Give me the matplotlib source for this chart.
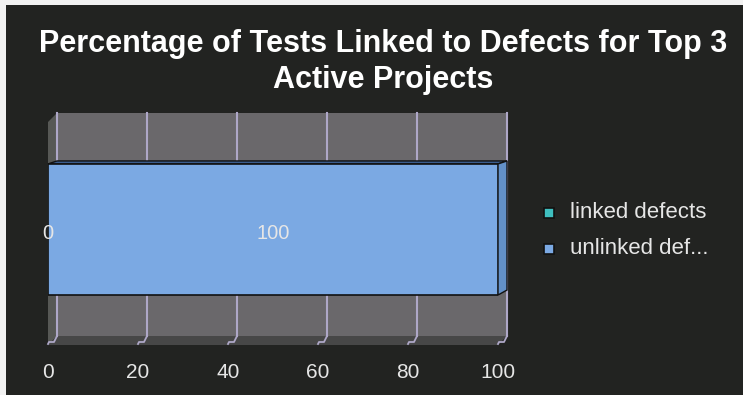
import matplotlib
matplotlib.use("Agg")
import matplotlib.pyplot as plt
from matplotlib.patches import Polygon, Rectangle
from matplotlib.lines import Line2D
from matplotlib.transforms import IdentityTransform

# ---- data ----
title = "Percentage of Tests Linked to Defects for Top 3\nActive Projects"
categories = ["Top 3 Active Projects"]
series_names = ["linked defects", "unlinked def..."]
linked = [0]
unlinked = [100]
x_ticks = [0, 20, 40, 60, 80, 100]

# ---- style ----
BG = "#222321"
WALL = "#6a686b"
SIDE_WALL = "#575855"
FLOOR = "#474747"
GRID = "#aea7c7"
TEXT = "#e6e6e6"
COLORS = ["#3fbfbf", "#7ba9e3"]
TOP_FACE = ["#2a8a8a", "#3b5d8e"]
SIDE_FACE = ["#33a0a0", "#6390c8"]
W, H = 743, 395
DX, DY = 9, 9          # depth offset of the 3D walls (pixels)
BDX, BDY = 9, 3        # depth offset of the bar faces (pixels)

fig = plt.figure(figsize=(W / 100, H / 100), dpi=100, facecolor=BG)

# thin light border along the top and left edges
fig.patches.append(Rectangle((0, 1 - 5 / H), 1, 5 / H, transform=fig.transFigure,
                             facecolor="#f2f2f2", edgecolor="none", zorder=0))
fig.patches.append(Rectangle((0, 0), 6 / W, 1, transform=fig.transFigure,
                             facecolor="#f2f2f2", edgecolor="none", zorder=0))

fig.text(383 / W, 1 - 62 / H, title, ha="center", va="center", color="white",
         fontsize=22, fontweight="bold", family="Liberation Sans",
         linespacing=1.22, multialignment="center")

# front plane of the plot
left, right, top, bottom = 48, 498, 122, 345
ax = fig.add_axes([left / W, 1 - bottom / H, (right - left) / W, (bottom - top) / H])
ax.set_xlim(0, 100)
ax.set_ylim(-0.5287, 0.492)
ax.axis("off")
ax.patch.set_visible(False)

fig.canvas.draw()
ident = IdentityTransform()


def px(x, y, space="data"):
    t = ax.transData if space == "data" else ax.transAxes
    return t.transform((x, y))


def poly(pts, color, z, lw=0, ec="none"):
    ax.add_patch(Polygon(pts, closed=True, facecolor=color, edgecolor=ec, linewidth=lw,
                         transform=ident, zorder=z, clip_on=False))


def line(xs, ys, z, lw):
    ax.add_line(Line2D(xs, ys, color=GRID, lw=lw, transform=ident, zorder=z,
                       clip_on=False))


# walls
fl = px(0, 0, "axes"); fr = px(1, 0, "axes"); tl = px(0, 1, "axes"); tr = px(1, 1, "axes")
b = lambda p: (p[0] + DX, p[1] + DY)
poly([b(fl), b(fr), b(tr), b(tl)], WALL, 1)
poly([fl, b(fl), b(tl), tl], SIDE_WALL, 1.5)
poly([fl, fr, b(fr), b(fl)], FLOOR, 1.5)

# grid lines on the back wall and across the floor, with tick labels below
for v in x_ticks:
    x_front = px(v, 0)[0]
    y_bot, y_top = fl[1], tl[1]
    line([x_front + DX, x_front + DX], [y_bot + DY, y_top + DY], 2, 1.5)
    line([x_front + DX, x_front + DX - 3, x_front + 1, x_front],
         [y_bot + DY, y_bot + DY - 6, y_bot + DY - 6, y_bot + 1], 2, 1.3)
    fig.text(x_front / W, 1 - 372 / H, str(v), ha="center", va="center",
             color=TEXT, fontsize=15, family="Liberation Sans")

# stacked horizontal bar with 3D faces
bar_h = 0.6
lefts = [0]
for i, (name, vals) in enumerate(zip(series_names, [linked, unlinked])):
    for j, v in enumerate(vals):
        x0 = lefts[j]
        ax.barh(j, v, left=x0, height=bar_h, color=COLORS[i], edgecolor="#111111",
                linewidth=1.2, zorder=5)
        a = px(x0, j + bar_h / 2); c = px(x0 + v, j + bar_h / 2); d = px(x0 + v, j - bar_h / 2)
        if v > 0:
            poly([a, c, (c[0] + BDX, c[1] + BDY), (a[0] + BDX, a[1] + BDY)], TOP_FACE[i], 4,
                 lw=1.0, ec="#111111")
            poly([d, c, (c[0] + BDX, c[1] + BDY), (d[0] + BDX, d[1] + BDY + 2)], SIDE_FACE[i], 4,
                 lw=1.0, ec="#111111")
        ax.text(x0 + v / 2, j - 0.02, f"{v:g}", ha="center", va="center", color=TEXT,
                fontsize=14.5, family="Liberation Sans", zorder=6, clip_on=False)
        lefts[j] = x0 + v

# legend
for i, name in enumerate(series_names):
    yc = 213 + 36 * i
    fig.patches.append(Rectangle((544 / W, 1 - (yc + 5) / H), 10 / W, 10 / H,
                                 transform=fig.transFigure, facecolor=COLORS[i],
                                 edgecolor="#111111", linewidth=1.2))
    fig.text(570 / W, 1 - yc / H, name, ha="left", va="center", color=TEXT,
             fontsize=16, family="Liberation Sans")

fig.savefig("out.png", dpi=100, facecolor=BG)
